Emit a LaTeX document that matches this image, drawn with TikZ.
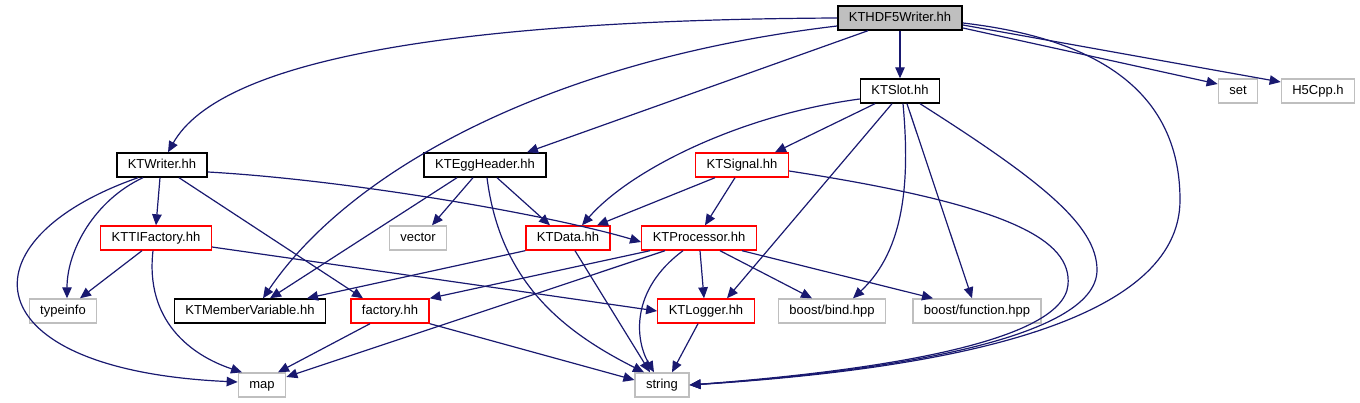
\documentclass[tikz,border=0pt]{standalone}
\usepackage{fontspec}
\setmainfont{Liberation Sans}
\usetikzlibrary{arrows.meta}

\definecolor{edgeblue}{HTML}{191970}
\definecolor{boxgray}{HTML}{BFBFBF}
\definecolor{rootfill}{HTML}{BFBFBF}
\definecolor{boxred}{HTML}{FF0000}

\begin{document}
\begin{tikzpicture}[x=1pt, y=-1pt, line width=1pt,
    font=\fontsize{13}{15}\selectfont,
    % 样式定义
    hdr/.style={draw, rectangle, inner xsep=11pt, inner ysep=0pt, minimum height=24pt,
        text height=9.5pt, text depth=2.5pt, line width=1.4pt},
    rootbox/.style={hdr, draw=black, fill=rootfill},
    blackbox/.style={hdr, draw=black},
    redbox/.style={hdr, draw=boxred},
    graybox/.style={hdr, draw=boxgray},
    incl/.style={draw=edgeblue, line width=1.2pt, -{Triangle[length=11pt, width=9.5pt]}}
]
    \useasboundingbox (0,0) rectangle (1360,403);

    % ▼▼▼【节点区】▼▼▼
    \node[rootbox]  (hdf5writer)     at (900,18)  {KTHDF5Writer.hh};
    \node[blackbox] (ktslot)         at (900,91)  {KTSlot.hh};
    \node[graybox]  (set_h)          at (1238,91) {set};
    \node[graybox]  (h5cpp)          at (1318,91) {H5Cpp.h};

    \node[blackbox] (ktwriter)       at (162,165) {KTWriter.hh};
    \node[blackbox] (kteggheader)    at (485,165) {KTEggHeader.hh};
    \node[redbox]   (ktsignal)       at (742,165) {KTSignal.hh};

    \node[redbox]   (kttifactory)    at (156,238) {KTTIFactory.hh};
    \node[graybox]  (vector_h)       at (418,238) {vector};
    \node[redbox]   (ktdata)         at (568,238) {KTData.hh};
    \node[redbox]   (ktprocessor)    at (699,238) {KTProcessor.hh};

    \node[graybox]  (typeinfo_h)     at (63,311)  {typeinfo};
    \node[blackbox] (ktmembervar)    at (250,311) {KTMemberVariable.hh};
    \node[redbox]   (factory_h)      at (390,311) {factory.hh};
    \node[redbox]   (ktlogger)       at (706,311) {KTLogger.hh};
    \node[graybox]  (boost_bind)     at (832,311) {boost/bind.hpp};
    \node[graybox]  (boost_function) at (977,311) {boost/function.hpp};

    \node[graybox]  (map_h)          at (262,385) {map};
    \node[graybox]  (string_h)       at (662,385) {string};

    % ▼▼▼【连线区】▼▼▼

    % KTHDF5Writer.hh
    \draw[incl] (hdf5writer.west) .. controls (450,20) and (220,60) .. ([xshift=6pt]ktwriter.north);
    \draw[incl] ([yshift=-8pt]hdf5writer.west) .. controls (550,60) and (350,170) .. ([xshift=13pt]ktmembervar.north);
    \draw[incl] ([xshift=-32pt]hdf5writer.south) -- ([xshift=42pt]kteggheader.north);
    \draw[incl] (hdf5writer) -- (ktslot);
    \draw[incl] ([yshift=-5pt]hdf5writer.east) .. controls (1110,40) and (1180,100) .. (1180,200)
        .. controls (1180,320) and (960,368) .. (string_h.east);
    \draw[incl] ([yshift=-10pt]hdf5writer.east) -- ([yshift=7pt]set_h.west);
    \draw[incl] ([yshift=-7pt]hdf5writer.east) -- ([yshift=9pt]h5cpp.west);

    % KTSlot.hh
    \draw[incl] ([xshift=-25pt]ktslot.south) -- ([xshift=33pt]ktsignal.north);
    \draw[incl] ([yshift=-8pt]ktslot.west) .. controls (740,115) and (630,170) .. ([xshift=14pt]ktdata.north);
    \draw[incl] ([xshift=-8pt]ktslot.south) -- ([xshift=21pt]ktlogger.north);
    \draw[incl] ([xshift=3pt]ktslot.south) .. controls (910,180) and (905,250) .. ([xshift=21pt]boost_bind.north);
    \draw[incl] ([xshift=7pt]ktslot.south) -- ([xshift=-5pt]boost_function.north);
    \draw[incl] ([xshift=20pt]ktslot.south) .. controls (1040,180) and (1097,225) .. (1097,270)
        .. controls (1097,340) and (880,372) .. (string_h.east);

    % KTWriter.hh
    \draw[incl] ([xshift=-2pt]ktwriter.south) -- (kttifactory.north);
    \draw[incl] ([xshift=-19pt]ktwriter.south) .. controls (95,200) and (67,250) .. ([xshift=4pt]typeinfo_h.north);
    \draw[incl] ([xshift=-24pt]ktwriter.south) .. controls (-40,240) and (-30,370) .. ([yshift=3pt]map_h.west);
    \draw[incl] ([xshift=17pt]ktwriter.south) -- ([xshift=-27pt]factory_h.north);
    \draw[incl] ([yshift=-7pt]ktwriter.east) .. controls (350,180) and (550,215) .. ([yshift=-4pt]ktprocessor.west);

    % KTEggHeader.hh
    \draw[incl] ([xshift=-12pt]kteggheader.south) -- ([xshift=14pt]vector_h.north);
    \draw[incl] ([xshift=-28pt]kteggheader.south) -- ([xshift=20pt]ktmembervar.north);
    \draw[incl] ([xshift=12pt]kteggheader.south) -- ([xshift=-18pt]ktdata.north);
    \draw[incl] ([xshift=2pt]kteggheader.south) .. controls (500,280) and (560,330) .. ([xshift=-18pt]string_h.north);

    % KTSignal.hh
    \draw[incl] ([xshift=-27pt]ktsignal.south) -- ([xshift=29pt]ktdata.north);
    \draw[incl] ([xshift=-7pt]ktsignal.south) -- ([xshift=6pt]ktprocessor.north);
    \draw[incl] ([yshift=-6pt]ktsignal.east) .. controls (1010,205) and (1072,240) .. (1068,285)
        .. controls (1062,345) and (860,372) .. (string_h.east);

    % KTTIFactory.hh
    \draw[incl] ([xshift=-14pt]kttifactory.south) -- ([xshift=17pt]typeinfo_h.north);
    \draw[incl] ([xshift=-3pt]kttifactory.south) .. controls (145,320) and (190,355) .. ([xshift=-20pt]map_h.north);
    \draw[incl] ([yshift=-9pt]kttifactory.east) -- (ktlogger.west);

    % KTData.hh
    \draw[incl] (ktdata.south west) -- ([xshift=57pt]ktmembervar.north);
    \draw[incl] ([xshift=7pt]ktdata.south) -- ([xshift=-12pt]string_h.north);

    % KTProcessor.hh
    \draw[incl] ([xshift=-49pt]ktprocessor.south) -- (factory_h.north east);
    \draw[incl] ([xshift=-34pt]ktprocessor.south) -- ([yshift=8pt]map_h.east);
    \draw[incl] ([xshift=-16pt]ktprocessor.south) .. controls (630,290) and (635,340) .. ([xshift=-8pt]string_h.north);
    \draw[incl] ([xshift=1pt]ktprocessor.south) -- ([xshift=-2pt]ktlogger.north);
    \draw[incl] ([xshift=21pt]ktprocessor.south) -- ([xshift=-20pt]boost_bind.north);
    \draw[incl] ([xshift=43pt]ktprocessor.south) -- ([xshift=-44pt]boost_function.north);

    % factory.hh / KTLogger.hh
    \draw[incl] ([xshift=-20pt]factory_h.south) -- ([xshift=16pt]map_h.north);
    \draw[incl] (factory_h.south east) -- ([yshift=5pt]string_h.west);
    \draw[incl] ([xshift=-8pt]ktlogger.south) -- ([xshift=10pt]string_h.north);

\end{tikzpicture}
\end{document}
